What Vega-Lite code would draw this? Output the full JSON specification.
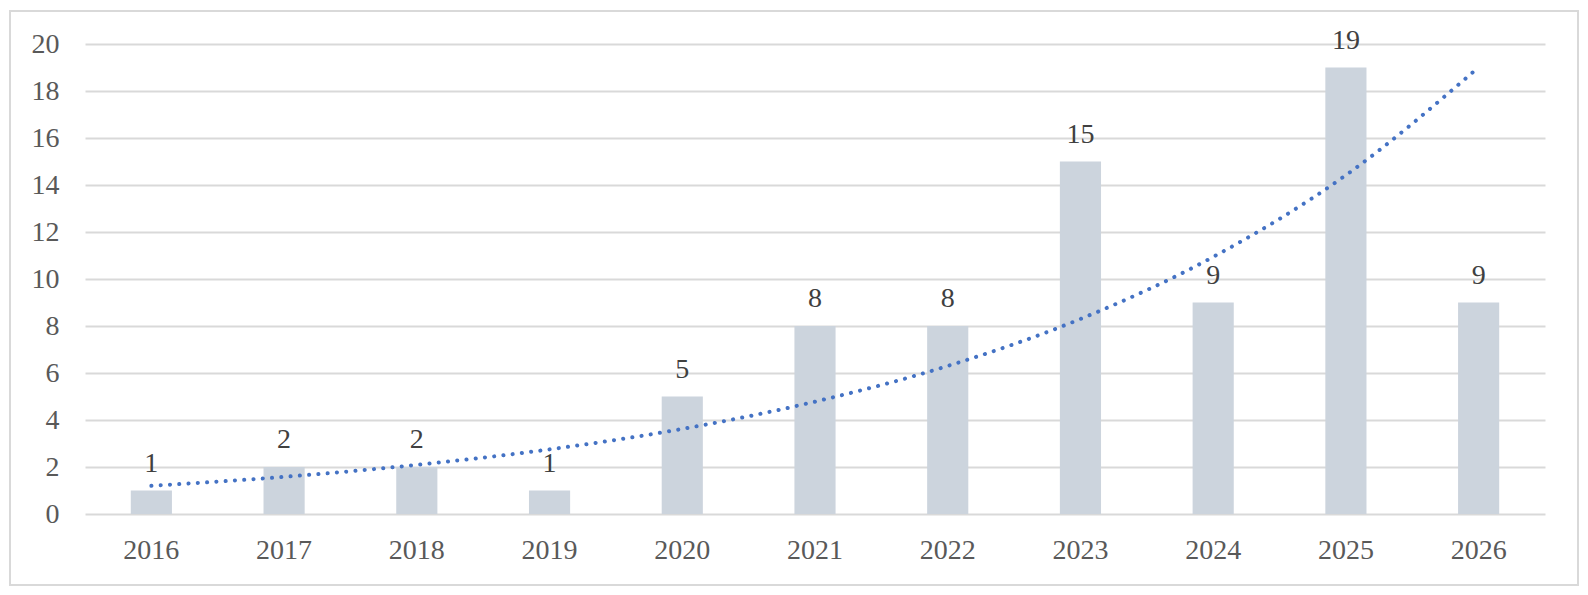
{
  "$schema": "https://vega.github.io/schema/vega-lite/v6.json",
  "autosize": "none",
  "padding": {"left": 10, "top": 11, "right": 10, "bottom": 10},
  "width": 1568,
  "height": 574,
  "background": "white",
  "data": {
    "values": [
      {"Year": "2016", "Count": 1, "Trend": 1.20},
      {"Year": "2017", "Count": 2, "Trend": 1.58},
      {"Year": "2018", "Count": 2, "Trend": 2.09},
      {"Year": "2019", "Count": 1, "Trend": 2.75},
      {"Year": "2020", "Count": 5, "Trend": 3.62},
      {"Year": "2021", "Count": 8, "Trend": 4.78},
      {"Year": "2022", "Count": 8, "Trend": 6.30},
      {"Year": "2023", "Count": 15, "Trend": 8.30},
      {"Year": "2024", "Count": 9, "Trend": 10.94},
      {"Year": "2025", "Count": 19, "Trend": 14.42},
      {"Year": "2026", "Count": 9, "Trend": 19.01}
    ]
  },
  "encoding": {
    "x": {
      "field": "Year", "type": "ordinal", "title": null,
      "scale": {"range": [75, 1535], "paddingInner": 0.69, "paddingOuter": 0.345},
      "axis": {
        "offset": -71, "domain": false, "ticks": false, "grid": false,
        "labelAngle": 0, "labelPadding": 22,
        "labelFont": "Liberation Serif", "labelFontSize": 28, "labelColor": "#595959"
      }
    }
  },
  "layer": [
    {
      "mark": {"type": "bar", "color": "#CCD4DD"},
      "encoding": {
        "y": {
          "field": "Count", "type": "quantitative", "title": null,
          "scale": {"domain": [0, 20], "range": [503, 33], "nice": false, "zero": true},
          "axis": {
            "offset": -75, "values": [0, 2, 4, 6, 8, 10, 12, 14, 16, 18, 20],
            "domain": false, "ticks": false, "labelPadding": 26,
            "gridColor": "#D9D9D9", "gridWidth": 2,
            "labelFont": "Liberation Serif", "labelFontSize": 28, "labelColor": "#595959"
          }
        }
      }
    },
    {
      "mark": {
        "type": "text", "font": "Liberation Serif", "fontSize": 28,
        "color": "#404040", "baseline": "alphabetic", "dy": -19
      },
      "encoding": {
        "y": {"field": "Count", "type": "quantitative"},
        "text": {"field": "Count", "type": "quantitative"}
      }
    },
    {
      "mark": {
        "type": "line", "color": "#4472C4", "strokeWidth": 4,
        "strokeDash": [0.1, 9.2], "strokeCap": "round", "interpolate": "monotone"
      },
      "encoding": {
        "y": {"field": "Trend", "type": "quantitative"}
      }
    }
  ],
  "config": {
    "view": {"stroke": "#D9D9D9", "strokeWidth": 2}
  }
}
